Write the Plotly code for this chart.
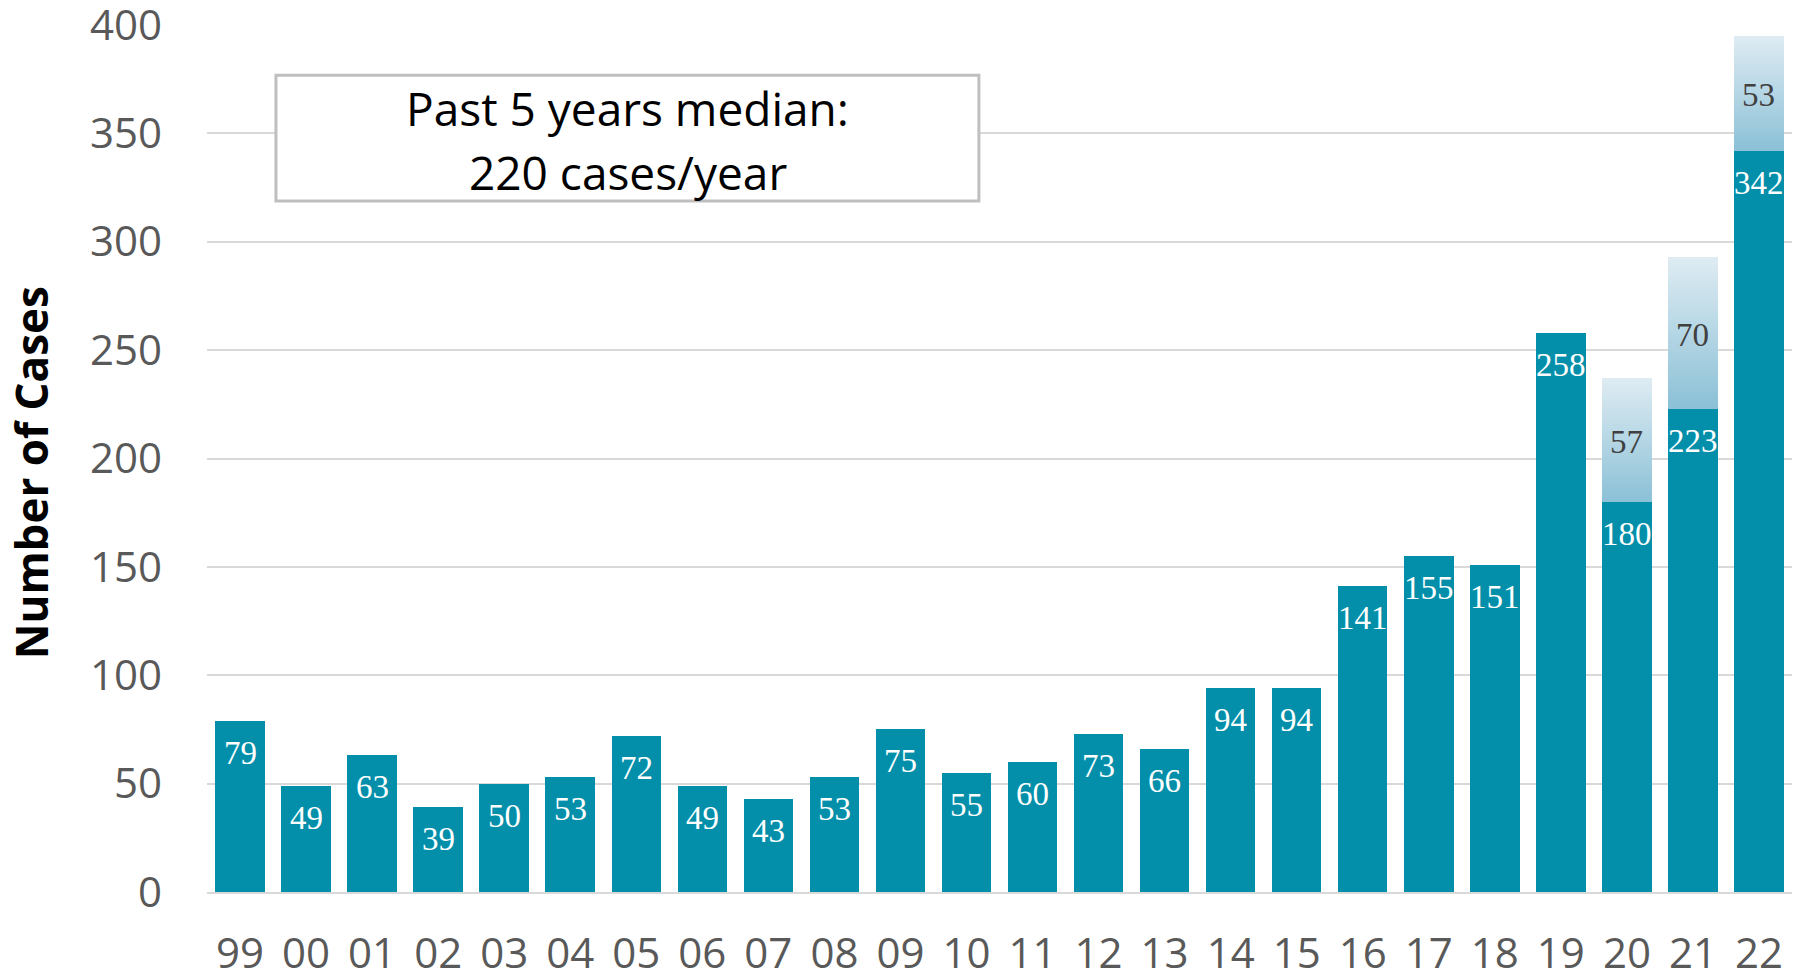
import plotly.graph_objects as go

years = ['99', '00', '01', '02', '03', '04', '05', '06', '07', '08', '09', '10',
         '11', '12', '13', '14', '15', '16', '17', '18', '19', '20', '21', '22']
cases = [79, 49, 63, 39, 50, 53, 72, 49, 43, 53, 75, 55,
         60, 73, 66, 94, 94, 141, 155, 151, 258, 180, 223, 342]
pending = [0, 0, 0, 0, 0, 0, 0, 0, 0, 0, 0, 0,
           0, 0, 0, 0, 0, 0, 0, 0, 0, 57, 70, 53]
y_ticks = [0, 50, 100, 150, 200, 250, 300, 350, 400]
median_lines = ["Past 5 years median:", "220 cases/year"]
y_title = "Number of Cases"

BAR = "#038FAA"
GRAD_TOP = (222, 235, 242)
GRAD_BOT = (140, 193, 215)
N_SLICES = 40

fig = go.Figure()
fig.add_trace(go.Bar(x=years, y=cases, marker=dict(color=BAR, line=dict(width=0)),
                     hoverinfo="skip", showlegend=False))

# gradient-filled stacked segment, drawn as thin stacked slices of each pending value
for k in range(N_SLICES):
    t = k / (N_SLICES - 1)
    c = tuple(round(GRAD_BOT[j] + (GRAD_TOP[j] - GRAD_BOT[j]) * t) for j in range(3))
    fig.add_trace(go.Bar(x=years, y=[p / N_SLICES for p in pending],
                         marker=dict(color="rgb(%d,%d,%d)" % c, line=dict(width=0)),
                         hoverinfo="skip", showlegend=False))

annotations = []
for i, (v, p) in enumerate(zip(cases, pending)):
    # category index i (category strings like '00' would be read as numbers)
    annotations.append(dict(x=i, y=v, xref="x", yref="y", text=str(v), showarrow=False,
                            yshift=-32, yanchor="middle",
                            font=dict(family="Liberation Serif", size=33, color="white")))
    if p:
        annotations.append(dict(x=i, y=v + p / 2, xref="x", yref="y", text=str(p),
                                showarrow=False, yanchor="middle", yshift=-2,
                                font=dict(family="Liberation Serif", size=33, color="#404040")))

for line, ypos in zip(median_lines, [0.9043, 0.8304]):
    annotations.append(dict(x=0.2655, y=ypos, xref="paper", yref="paper", text=line,
                            showarrow=False, xanchor="center", yanchor="middle", align="center",
                            font=dict(family="Open Sans", size=46, color="black")))
annotations.append(dict(x=-0.111, y=0.483, xref="paper", yref="paper", text="<b>" + y_title + "</b>",
                        showarrow=False, textangle=-90, xanchor="center", yanchor="middle",
                        font=dict(family="Open Sans", size=44, color="black")))

fig.update_layout(
    width=1800, height=974,
    margin=dict(l=207, r=8, t=25, b=82),
    paper_bgcolor="white", plot_bgcolor="white",
    barmode="stack", bargap=0.25,
    annotations=annotations,
    shapes=[dict(type="rect", xref="paper", yref="paper", x0=0.0435, x1=0.487, y0=0.797, y1=0.942,
                 line=dict(color="#BFBFBF", width=3), fillcolor="white", layer="above")],
    xaxis=dict(type="category", range=[-0.5, len(years) - 0.5], autorange=False,
               categoryorder="array", categoryarray=years, automargin=False,
               showgrid=False, showline=True, linecolor="#D9D9D9", linewidth=2,
               ticks="", ticklabelstandoff=24, tickangle=0,
               tickfont=dict(family="Open Sans", size=42, color="#595959")),
    yaxis=dict(range=[0, 400], autorange=False, tickvals=y_ticks, automargin=False,
               showgrid=True, gridcolor="#D9D9D9", gridwidth=2,
               zeroline=False, ticks="", ticklabelstandoff=44, ticklabeloverflow="allow",
               tickfont=dict(family="Open Sans", size=42, color="#595959")),
    font=dict(family="Open Sans"),
)

fig.write_html("out.html", config={"displayModeBar": False},
               post_script="document.body.style.margin='0';document.body.style.overflow='hidden';")
